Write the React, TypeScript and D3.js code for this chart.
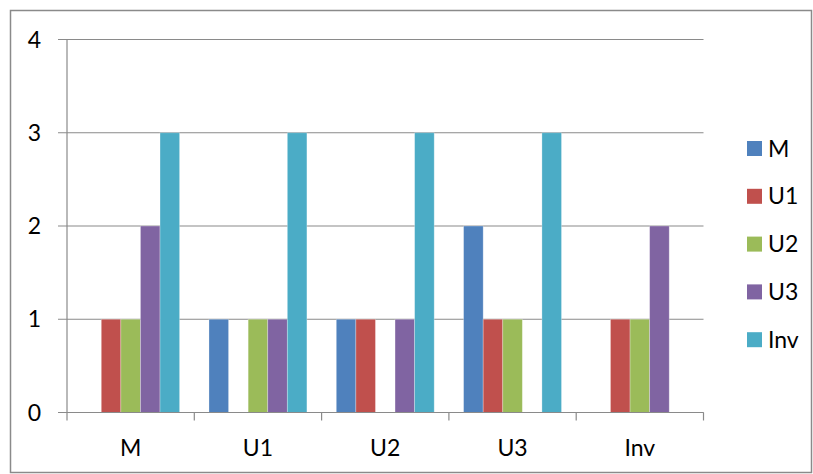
import React from "react";
import * as d3 from "d3";

const categories = ["M", "U1", "U2", "U3", "Inv"];
const seriesNames = ["M", "U1", "U2", "U3", "Inv"];
const seriesColors = ["#4F81BD", "#C0504D", "#9BBB59", "#8064A2", "#4BACC6"];
// values[series][category]
const valuesM = [0, 1, 1, 2, 0];
const valuesU1 = [1, 0, 1, 1, 1];
const valuesU2 = [1, 1, 0, 1, 1];
const valuesU3 = [2, 1, 1, 0, 2];
const valuesInv = [3, 3, 3, 3, 0];
const seriesValues = [valuesM, valuesU1, valuesU2, valuesU3, valuesInv];
const yTicks = [0, 1, 2, 3, 4];

export default function App() {
  const W = 813, H = 474;
  const left = 67, right = 703.5, top = 39.5, bottom = 412.5;
  const font = "Lato, 'Open Sans', sans-serif";
  const fs = 23;
  const y = d3.scaleLinear().domain([0, 4]).range([bottom, top]);
  const x0 = d3.scaleBand().domain(categories).range([left, right]).paddingInner(0).paddingOuter(0);
  const cw = x0.bandwidth();
  const barW = cw / 6.5;
  const x1 = d3.scaleBand().domain(seriesNames).range([cw * 0.75 / 6.5, cw - cw * 0.75 / 6.5]).padding(0);
  const boundaries = d3.range(categories.length + 1).map((i) => left + i * cw);
  return (
    <svg width={W} height={H} style={{ position: "absolute", left: 0, top: 0, background: "#fff" }}>
      <rect x={10.5} y={10.5} width={801} height={462} fill="#fff" stroke="#8a8a8a" strokeWidth={1.5} />
      {yTicks.map((t) => (
        <g key={t}>
          <line x1={58} x2={right} y1={y(t)} y2={y(t)} stroke="#8a8a8a" strokeWidth={1.2} />
          <text x={41} y={y(t)} dy="0.35em" textAnchor="end" fontFamily={font} fontSize={fs} fill="#000">{t}</text>
        </g>
      ))}
      {categories.map((c, ci) =>
        seriesNames.map((s, si) => {
          const v = seriesValues[si][ci];
          if (!v) return null;
          return (
            <rect key={c + s} x={(x0(c) as number) + (x1(s) as number)} y={y(v)} width={barW} height={y(0) - y(v)}
              fill={seriesColors[si]} stroke="rgba(255,255,255,0.35)" strokeWidth={0.8} />
          );
        })
      )}
      <line x1={left} x2={left} y1={top} y2={bottom} stroke="#8a8a8a" strokeWidth={1.2} />
      <line x1={left} x2={right} y1={bottom} y2={bottom} stroke="#8a8a8a" strokeWidth={1.2} />
      {boundaries.map((b, i) => (
        <line key={i} x1={b} x2={b} y1={bottom} y2={bottom + 8} stroke="#8a8a8a" strokeWidth={1.2} />
      ))}
      {categories.map((c) => (
        <text key={c} x={(x0(c) as number) + cw / 2} y={456} textAnchor="middle" fontFamily={font} fontSize={fs} fill="#000">{c}</text>
      ))}
      {seriesNames.map((s, i) => (
        <g key={s} transform={`translate(747,${141 + i * 47.8})`}>
          <rect x={0} y={0} width={15} height={15} fill={seriesColors[i]} />
          <text x={21} y={7.5} dy="0.35em" fontFamily={font} fontSize={fs} fill="#000">{s}</text>
        </g>
      ))}
    </svg>
  );
}
